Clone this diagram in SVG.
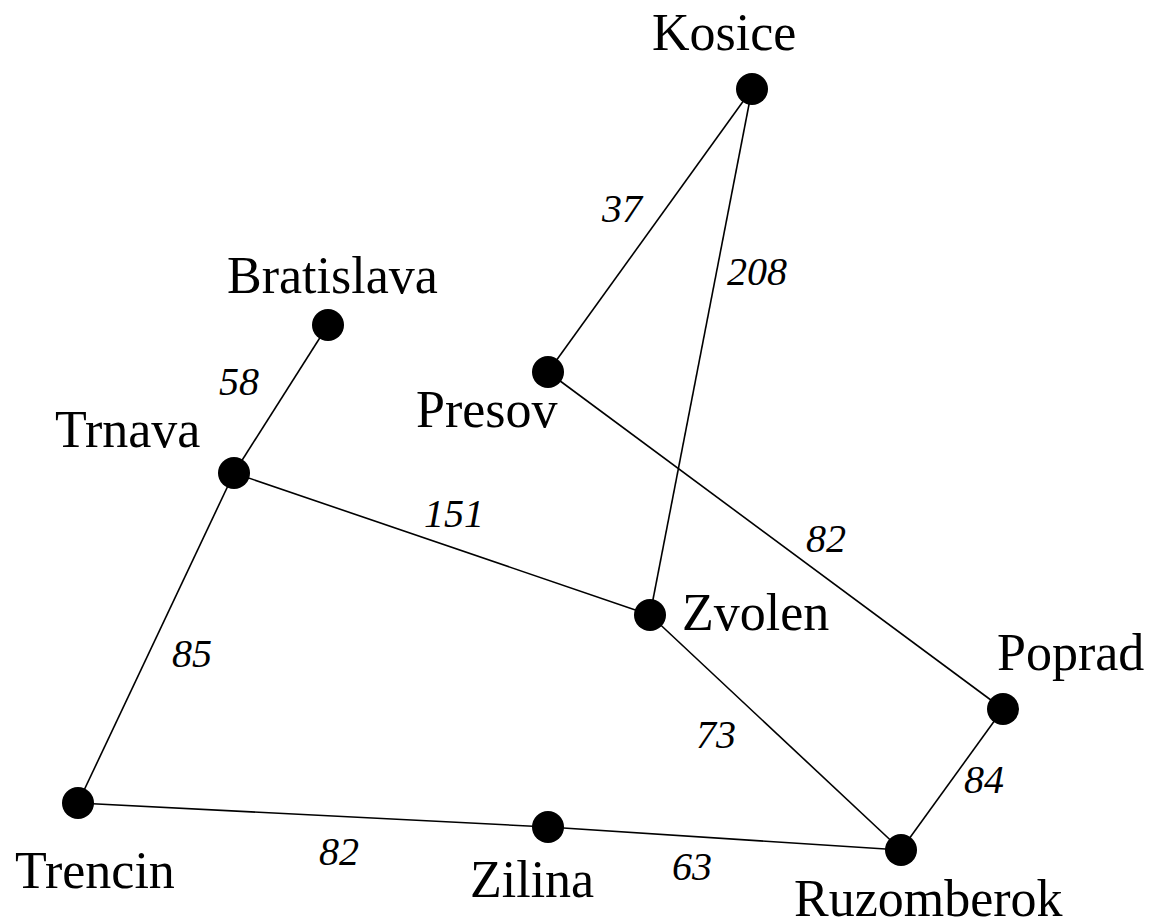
<svg xmlns="http://www.w3.org/2000/svg" width="1151" height="920" viewBox="0 0 1151 920">
  <style>
    .edge { stroke: #000; stroke-width: 1.6; fill: none; }
    .city { fill: #000; }
    .name { font-family: "Liberation Serif", "Times New Roman", serif; font-size: 52px; fill: #000; }
    .dist { font-family: "Liberation Serif", "Times New Roman", serif; font-size: 40px; font-style: italic; fill: #000; }
  </style>
  <rect width="1151" height="920" fill="#fff"/>

  <!-- road connections with distances -->
  <g id="connectors">
    <line class="edge" x1="752" y1="89" x2="548" y2="372"/>
    <line class="edge" x1="752" y1="89" x2="650" y2="615"/>
    <line class="edge" x1="328" y1="325" x2="234" y2="473"/>
    <line class="edge" x1="548" y1="372" x2="1003" y2="709"/>
    <line class="edge" x1="234" y1="473" x2="650" y2="615"/>
    <line class="edge" x1="234" y1="473" x2="78" y2="803"/>
    <line class="edge" x1="650" y1="615" x2="901" y2="850"/>
    <line class="edge" x1="1003" y1="709" x2="901" y2="850"/>
    <line class="edge" x1="78" y1="803" x2="548" y2="827"/>
    <line class="edge" x1="548" y1="827" x2="901" y2="850"/>
    <text class="dist" x="602" y="222">37</text>
    <text class="dist" x="727" y="285">208</text>
    <text class="dist" x="219" y="395">58</text>
    <text class="dist" x="424" y="527">151</text>
    <text class="dist" x="806" y="552">82</text>
    <text class="dist" x="172" y="667">85</text>
    <text class="dist" x="696" y="748">73</text>
    <text class="dist" x="964" y="793">84</text>
    <text class="dist" x="319" y="865">82</text>
    <text class="dist" x="672" y="880">63</text>
  </g>

  <!-- cities -->
  <g id="kosice">
    <circle class="city" cx="752" cy="89" r="16"/>
    <text class="name" x="652" y="50">Kosice</text>
  </g>
  <g id="bratislava">
    <circle class="city" cx="328" cy="325" r="16"/>
    <text class="name" x="227" y="293">Bratislava</text>
  </g>
  <g id="presov">
    <circle class="city" cx="548" cy="372" r="16"/>
    <text class="name" x="416" y="427">Presov</text>
  </g>
  <g id="trnava">
    <circle class="city" cx="234" cy="473" r="16"/>
    <text class="name" x="55" y="447">Trnava</text>
  </g>
  <g id="zvolen">
    <circle class="city" cx="650" cy="615" r="16"/>
    <text class="name" x="682" y="630">Zvolen</text>
  </g>
  <g id="poprad">
    <circle class="city" cx="1003" cy="709" r="16"/>
    <text class="name" x="997" y="670">Poprad</text>
  </g>
  <g id="trencin">
    <circle class="city" cx="78" cy="803" r="16"/>
    <text class="name" x="15" y="888">Trencin</text>
  </g>
  <g id="zilina">
    <circle class="city" cx="548" cy="827" r="16"/>
    <text class="name" x="470" y="897">Zilina</text>
  </g>
  <g id="ruzomberok">
    <circle class="city" cx="901" cy="850" r="16"/>
    <text class="name" x="794" y="916">Ruzomberok</text>
  </g>
</svg>
